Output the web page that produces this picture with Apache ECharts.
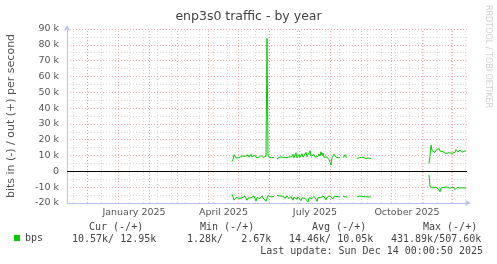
<!DOCTYPE html>
<html><head><meta charset="utf-8">
<script src="https://cdn.jsdelivr.net/npm/echarts@6/dist/echarts.min.js"></script>
<style>html,body{margin:0;padding:0;background:#fff}#c{width:497px;height:264px}</style>
</head><body><div id="c"></div>
<script>
const DAY = 86400000;
const chartTitle = 'enp3s0 traffic - by year';
const yAxisTitle = 'bits in (-) / out (+) per second';
const axisStart = '2024-11-10T12:00:00Z';
const axisEnd = '2025-12-15T12:00:00Z';
const yMin = -20, yMax = 90, yStep = 10;
const xLabelNames = ['January 2025', 'April 2025', 'July 2025', 'October 2025'];
const xLabelDates = ['2025-01-16T12:00:00Z', '2025-04-16T00:00:00Z', '2025-07-16T12:00:00Z', '2025-10-16T12:00:00Z'];
const monthGridDates = ['2024-12-01','2025-01-01','2025-02-01','2025-03-01','2025-04-01','2025-05-01','2025-06-01','2025-07-01','2025-08-01','2025-09-01','2025-10-01','2025-11-01','2025-12-01'];
const weekGridDates = ['2024-11-17','2024-12-01','2024-12-15','2024-12-29','2025-01-12','2025-01-26','2025-02-09','2025-02-23','2025-03-09','2025-03-23','2025-04-06','2025-04-20','2025-05-04','2025-05-18','2025-06-01','2025-06-15','2025-06-29','2025-07-13','2025-07-27','2025-08-10','2025-08-24','2025-09-07','2025-09-21','2025-10-05','2025-10-19','2025-11-02','2025-11-16','2025-11-30','2025-12-14'];

// daily values in k bits/s
const seg1Start = '2025-04-24T12:00:00Z';
const out1 = [6.2,7.5,10.5,11.6,8.5,8.2,8.8,8.6,9.2,8.9,
  9.8,8.7,9.1,9.5,8.9,9.7,10.4,9.0,9.3,10.8,
  9.1,8.8,9.6,10.2,8.9,9.4,9.9,8.7,9.2,10.1,
  9.0,8.8,9.5,9.1,9.6,84.0,9.8,8.9,9.3,8.6,
  9.0,8.4,8.8,null,null,7.9,8.6,8.3,9.1,8.5,
  8.0,8.9,9.3,8.4,8.7,9.6,8.2,9.0,10.2,8.8,
  9.4,10.9,8.6,9.7,11.8,8.5,9.3,10.6,8.9,9.8,
  11.2,9.0,8.4,9.9,12.1,9.2,8.6,10.4,13.0,9.6,
  8.8,9.9,10.7,9.1,8.9,10.3,9.4,11.0,9.7,12.4,
  10.1,11.6,9.0,8.7,10.2,9.1,8.3,7.4,5.8,4.1,
  8.6,9.5,10.8,11.2,9.0,8.7,9.3,8.5,9.0,null,
  null,8.6,9.4,10.5,9.1,8.8,null,null,null,null,
  null,null,null,null,null,8.2,9.1,8.5,8.7,9.3,
  8.4,8.9,8.3,8.5,8.1,8.6,8.2,8.4,8.3,8.0];
const in1 = [14.5,16.0,18.2,19.0,16.5,15.8,16.4,17.0,16.2,15.9,
  16.8,17.4,16.1,15.7,16.6,18.3,16.9,16.0,15.8,16.7,
  17.1,16.2,15.6,16.4,18.8,16.5,15.9,16.3,17.2,16.0,
  15.5,16.8,17.5,16.1,18.9,19.5,15.3,16.0,15.6,16.2,
  15.8,16.4,15.9,null,null,15.2,15.8,16.3,15.6,16.1,
  16.8,15.7,16.2,17.1,16.0,15.5,16.6,17.3,16.1,15.8,
  16.9,18.2,16.3,15.6,16.4,17.6,16.2,15.9,16.7,18.5,
  16.8,16.0,15.7,17.0,16.3,17.8,19.4,16.6,15.9,16.5,
  17.2,16.1,15.8,16.4,17.5,18.9,16.7,16.0,15.6,16.3,
  17.1,16.2,15.8,16.9,18.0,16.4,15.7,16.2,15.5,15.9,
  16.6,17.4,16.0,15.6,16.3,15.9,16.5,15.8,16.2,null,
  null,15.9,16.4,15.7,16.1,16.5,null,null,null,null,
  null,null,null,null,null,16.2,15.8,16.4,15.6,16.0,
  15.4,15.9,16.3,15.7,16.1,15.5,15.9,16.2,15.8,16.0];
const seg2Start = '2025-11-07T12:00:00Z';
const out2 = [5.0,9.5,16.6,13.2,12.5,14.1,12.0,13.3,12.2,12.8,14.5,12.9,13.4,11.8,12.4,11.5,11.9,11.3,11.6,11.2,11.8,11.5,12.6,11.4,11.9,11.6,12.0,13.8,12.9,12.2,12.4,13.5,12.8,12.1,12.6,13.3,12.9,12.95];
const in2 = [2.3,9.6,10.2,9.0,10.5,9.3,11.2,10.0,9.1,10.8,11.6,12.9,10.4,9.8,9.4,10.1,9.6,9.3,9.9,9.5,10.2,10.8,10.1,10.6,9.8,10.3,11.5,10.7,10.2,10.4,10.9,10.5,11.1,10.6,10.4,10.7,10.5,10.57];

const seriesName = 'bps';
const statHeaders = ['Cur (-/+)', 'Min (-/+)', 'Avg (-/+)', 'Max (-/+)'];
const statValues = ['10.57k/ 12.95k', '1.28k/   2.67k', '14.46k/ 10.05k', '431.89k/507.60k'];
const lastUpdate = 'Last update: Sun Dec 14 00:00:50 2025';
const watermark = 'RRDTOOL / TOBI OETIKER';

const ts = s => Date.parse(s.length === 10 ? s + 'T00:00:00Z' : s);
function seg(start, vals, sign) {
  const t0 = ts(start);
  return vals.map((v, i) => [t0 + i * DAY, v == null ? '-' : sign * v]);
}
const gapT = ts(seg1Start) + out1.length * DAY;
const outData = seg(seg1Start, out1, 1).concat([[gapT, '-']], seg(seg2Start, out2, 1));
const inData = seg(seg1Start, in1, -1).concat([[gapT, '-']], seg(seg2Start, in2, -1));
const xLabelTs = xLabelDates.map(ts);

const GREEN = '#00cc00';
const RED = 'rgba(230,100,100,0.55)';
const GRAY = 'rgba(180,180,180,0.5)';
const AXIS = '#bcc3ee';
const TXT = '#555';
const MONO = 'DejaVu Sans Mono';

const headerX = [89, 200, 312, 423];
const valueX = [72, 187, 289, 391];

const graphic = [];
statHeaders.forEach((t, i) => graphic.push({type:'text', x: headerX[i], y: 227, silent:true,
  style:{text:t, font:'10px ' + MONO, fill:'#444', align:'left', verticalAlign:'middle'}}));
statValues.forEach((t, i) => graphic.push({type:'text', x: valueX[i], y: 239, silent:true,
  style:{text:t, font:'10px ' + MONO, fill:'#444', align:'left', verticalAlign:'middle'}}));
graphic.push({type:'text', x: 483, y: 251.5, silent:true,
  style:{text:lastUpdate, font:'10px ' + MONO, fill:'#444', align:'right', verticalAlign:'middle'}});
graphic.push({type:'text', x: 488, y: 5, rotation: -Math.PI/2, silent:true,
  style:{text:watermark, font:'8px DejaVu Sans', fill:'#cfcfcf', align:'left', verticalAlign:'middle'}});

const chart = echarts.init(document.getElementById('c'), null, {renderer:'canvas'});
chart.setOption({
  animation:false,
  backgroundColor:'#fff',
  textStyle:{fontFamily:'DejaVu Sans'},
  title:{text:chartTitle, left:'center', top:10, padding:0,
    textStyle:{fontSize:12.5, fontWeight:'normal', color:'#444', fontFamily:'DejaVu Sans'}},
  grid:{left:67, right:30, top:29, bottom:61, outerBoundsMode:'none', containLabel:false},
  legend:{data:[seriesName], left:9, top:228, icon:'rect', itemWidth:6, itemHeight:6, selectedMode:false,
    textStyle:{fontFamily:MONO, fontSize:10, color:'#444'}},
  xAxis:{type:'value', min:ts(axisStart), max:ts(axisEnd), scale:true,
    axisLine:{show:true, onZero:false, lineStyle:{color:AXIS, width:1}, symbol:['none','arrow'], symbolSize:[5,6], symbolOffset:[0,4]},
    axisTick:{show:false}, splitLine:{show:false},
    axisLabel:{customValues:xLabelTs, formatter:v => { const i = xLabelTs.indexOf(v); return i >= 0 ? xLabelNames[i] : ''; },
      fontSize:9.5, color:TXT, margin:5, hideOverlap:false}},
  yAxis:{type:'value', min:yMin, max:yMax, interval:yStep,
    name:yAxisTitle, nameLocation:'middle', nameGap:50, nameTextStyle:{fontSize:11, color:TXT},
    axisLine:{show:true, onZero:false, lineStyle:{color:AXIS, width:1}, symbol:['none','arrow'], symbolSize:[5,6], symbolOffset:[0,4]},
    axisTick:{show:false},
    axisLabel:{formatter:v => v === 0 ? '0' : v + ' k', fontSize:9.5, color:TXT, margin:8},
    splitLine:{show:true, lineStyle:{color:RED, type:[1,2], width:1}},
    minorTick:{show:false, splitNumber:2},
    minorSplitLine:{show:true, lineStyle:{color:GRAY, type:[1,2], width:1}}},
  graphic: graphic,
  series:[
    {type:'line', name:'grid', data:[], silent:true, z:1, legendHoverLink:false,
      markLine:{silent:true, symbol:'none', z:1, label:{show:false}, animation:false,
        data: weekGridDates.map(d => ({xAxis: ts(d), lineStyle:{color:GRAY, type:[1,2], width:1}}))
          .concat(monthGridDates.map(d => ({xAxis: ts(d), lineStyle:{color:RED, type:[1,2], width:1}})))}},
    {type:'line', name:'zero', data:[], silent:true, z:2,
      markLine:{silent:true, symbol:'none', z:2, label:{show:false}, animation:false,
        data:[{yAxis:0, lineStyle:{color:'#000', type:'solid', width:1}}]}},
    {type:'line', name:seriesName, data:outData, showSymbol:false, symbol:'none', z:3, connectNulls:false,
      color:GREEN, lineStyle:{color:GREEN, width:1}},
    {type:'line', name:seriesName, data:inData, showSymbol:false, symbol:'none', z:3, connectNulls:false,
      color:GREEN, lineStyle:{color:GREEN, width:1}}
  ]
});
</script></body></html>
